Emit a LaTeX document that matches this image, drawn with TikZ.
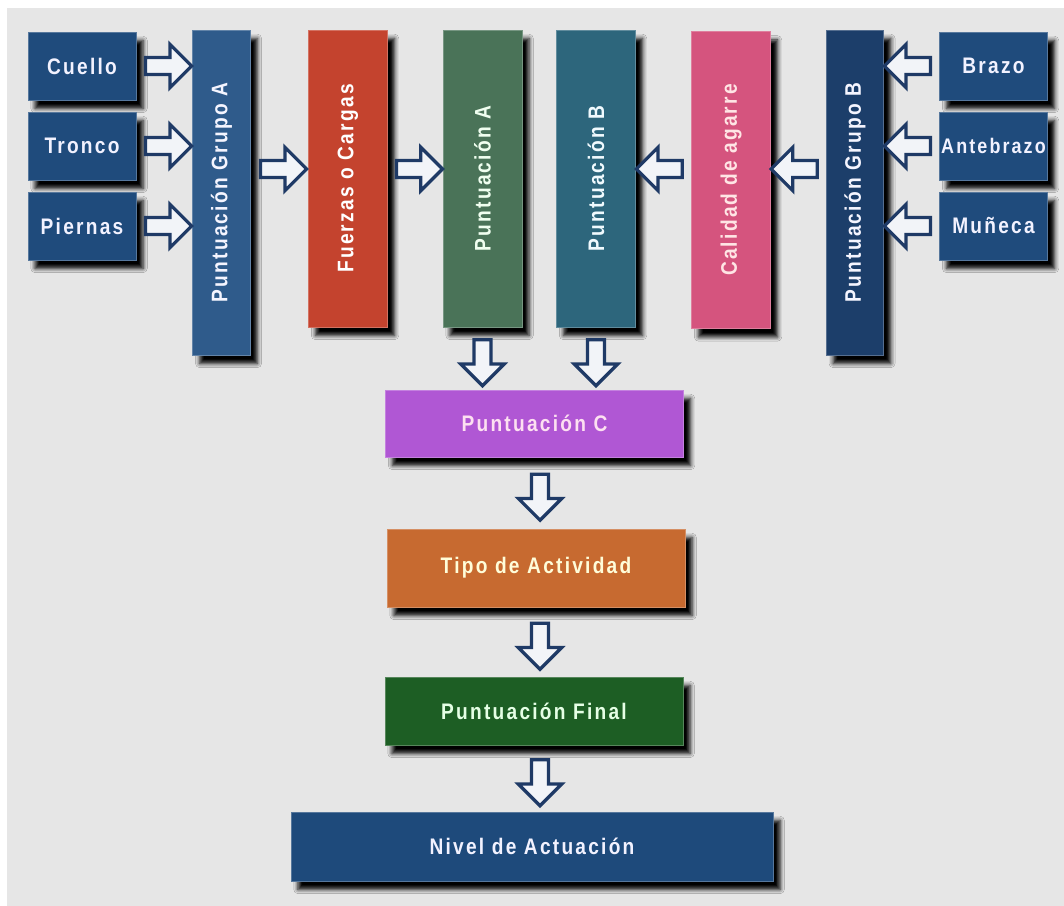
\documentclass[tikz,border=0pt]{standalone}
\usepackage{graphicx}
\usepackage{fontspec}
\usepackage{tikz}
\usetikzlibrary{shapes.arrows,shadows.blur}
\newfontfamily\boxfont{Liberation Sans}[FakeStretch=0.85,LetterSpace=10]

\definecolor{bggray}{HTML}{E6E6E6}
\definecolor{arrowblue}{HTML}{1F3A66}
\definecolor{arrowfill}{HTML}{F2F4F8}
\definecolor{partblue}{HTML}{1F4B7C}
\definecolor{grupoAcol}{HTML}{2F5B8B}
\definecolor{grupoBcol}{HTML}{1C3E6A}
\definecolor{fuerzascol}{HTML}{C4432E}
\definecolor{puntAcol}{HTML}{4A7358}
\definecolor{puntBcol}{HTML}{2D667C}
\definecolor{agarrecol}{HTML}{D5547E}
\definecolor{puntCcol}{HTML}{B057D4}
\definecolor{activcol}{HTML}{C76A30}
\definecolor{finalcol}{HTML}{1D5E24}
\definecolor{nivelcol}{HTML}{1E4A7B}

\tikzset{
  box/.style 2 args={rectangle, fill=#1, draw=#1!75!white, line width=0.6pt,
    text=#2, inner sep=1pt, align=center,
    font=\boxfont\bfseries\fontsize{16}{19}\selectfont,
    blur shadow={shadow xshift=5pt, shadow yshift=-6pt,
      shadow blur radius=3pt, shadow opacity=100}},
  partbox/.style={box={partblue}{blue!5!white}, minimum width=2.7cm, minimum height=1.7cm},
  grupobox/.style={box={#1}{blue!4!white}, minimum width=1.44cm, minimum height=8.125cm},
  tallbox/.style 2 args={box={#1}{#2}, minimum width=1.975cm, minimum height=7.425cm},
  widebox/.style 2 args={box={#1}{#2}, minimum width=7.45cm},
  bigarrow/.style={single arrow, draw=arrowblue, fill=arrowfill, line width=2.3pt,
    minimum height=1.15cm, inner sep=0.17cm, single arrow head extend=0.33cm,
    single arrow head indent=0pt, sloped, allow upside down, anchor=center}
}

\begin{document}
\begin{tikzpicture}[x=0.025cm,y=-0.025cm]
  % background
  \fill[white] (0,0) rectangle (1064,906);
  \fill[bggray] (7,8) rectangle (1064,906);

  % grupo A
  \foreach \nm/\txt/\y in {cuello/Cuello/66,tronco/Tronco/146,piernas/Piernas/226}
    \node[partbox] (\nm) at (82,\y) {\txt};
  \node[grupobox=grupoAcol] (grupoA) at (221.5,192.5) {\rotatebox{90}{Puntuación Grupo A}};

  % grupo B
  \node[partbox] (brazo) at (993.5,66) {Brazo};
  \node[partbox, font=\boxfont\bfseries\fontsize{15}{18}\selectfont] (antebrazo) at (993.5,146) {Antebrazo};
  \node[partbox] (muneca) at (993.5,226) {Muñeca};
  \node[grupobox=grupoBcol] (grupoB) at (855,192.5) {\rotatebox{90}{Puntuación Grupo B}};

  \node[tallbox={fuerzascol}{white}] (fuerzas) at (348,178.5) {\rotatebox{90}{Fuerzas o Cargas}};
  \node[tallbox={puntAcol}{green!6!white}] (puntA) at (482.5,178.5) {\rotatebox{90}{Puntuación A}};
  \node[tallbox={puntBcol}{cyan!6!white}] (puntB) at (596,178.5) {\rotatebox{90}{Puntuación B}};
  \node[tallbox={agarrecol}{pink!40!white}] (agarre) at (731,180) {\rotatebox{90}{Calidad de agarre}};

  \node[widebox={puntCcol}{magenta!12!white}, minimum height=1.675cm] (puntC) at (534.5,423.5) {Puntuación C};
  \node[widebox={activcol}{yellow!15!white}, minimum height=1.95cm] (actividad) at (536,568) {Tipo de Actividad};
  \node[widebox={finalcol}{green!10!white}, minimum height=1.7cm] (final) at (534,711) {Puntuación Final};
  \node[box={nivelcol}{blue!5!white}, minimum width=12.05cm, minimum height=1.725cm] (nivel) at (532,846.5) {Nivel de Actuación};

  % arrows
  \coordinate (lvl) at (0,169);
  \coordinate (col) at (540,0);
  \foreach \nm in {cuello,tronco,piernas}
    \path (\nm.east) -- node[bigarrow] {} (grupoA.west |- \nm.east);
  \foreach \nm in {brazo,antebrazo,muneca}
    \path (\nm.west) -- node[bigarrow] {} (grupoB.east |- \nm.west);
  \path (grupoA.east |- lvl) -- node[bigarrow] {} (fuerzas.west |- lvl);
  \path (fuerzas.east |- lvl) -- node[bigarrow] {} (puntA.west |- lvl);
  \path (grupoB.west |- lvl) -- node[bigarrow] {} (agarre.east |- lvl);
  \path (agarre.west |- lvl) -- node[bigarrow] {} (puntB.east |- lvl);
  \foreach \nm in {puntA,puntB}
    \path (\nm.south) -- node[bigarrow] {} (\nm.south |- puntC.north);
  \path (puntC.south -| col) -- node[bigarrow] {} (actividad.north -| col);
  \path (actividad.south -| col) -- node[bigarrow] {} (final.north -| col);
  \path (final.south -| col) -- node[bigarrow] {} (nivel.north -| col);
\end{tikzpicture}
\end{document}
